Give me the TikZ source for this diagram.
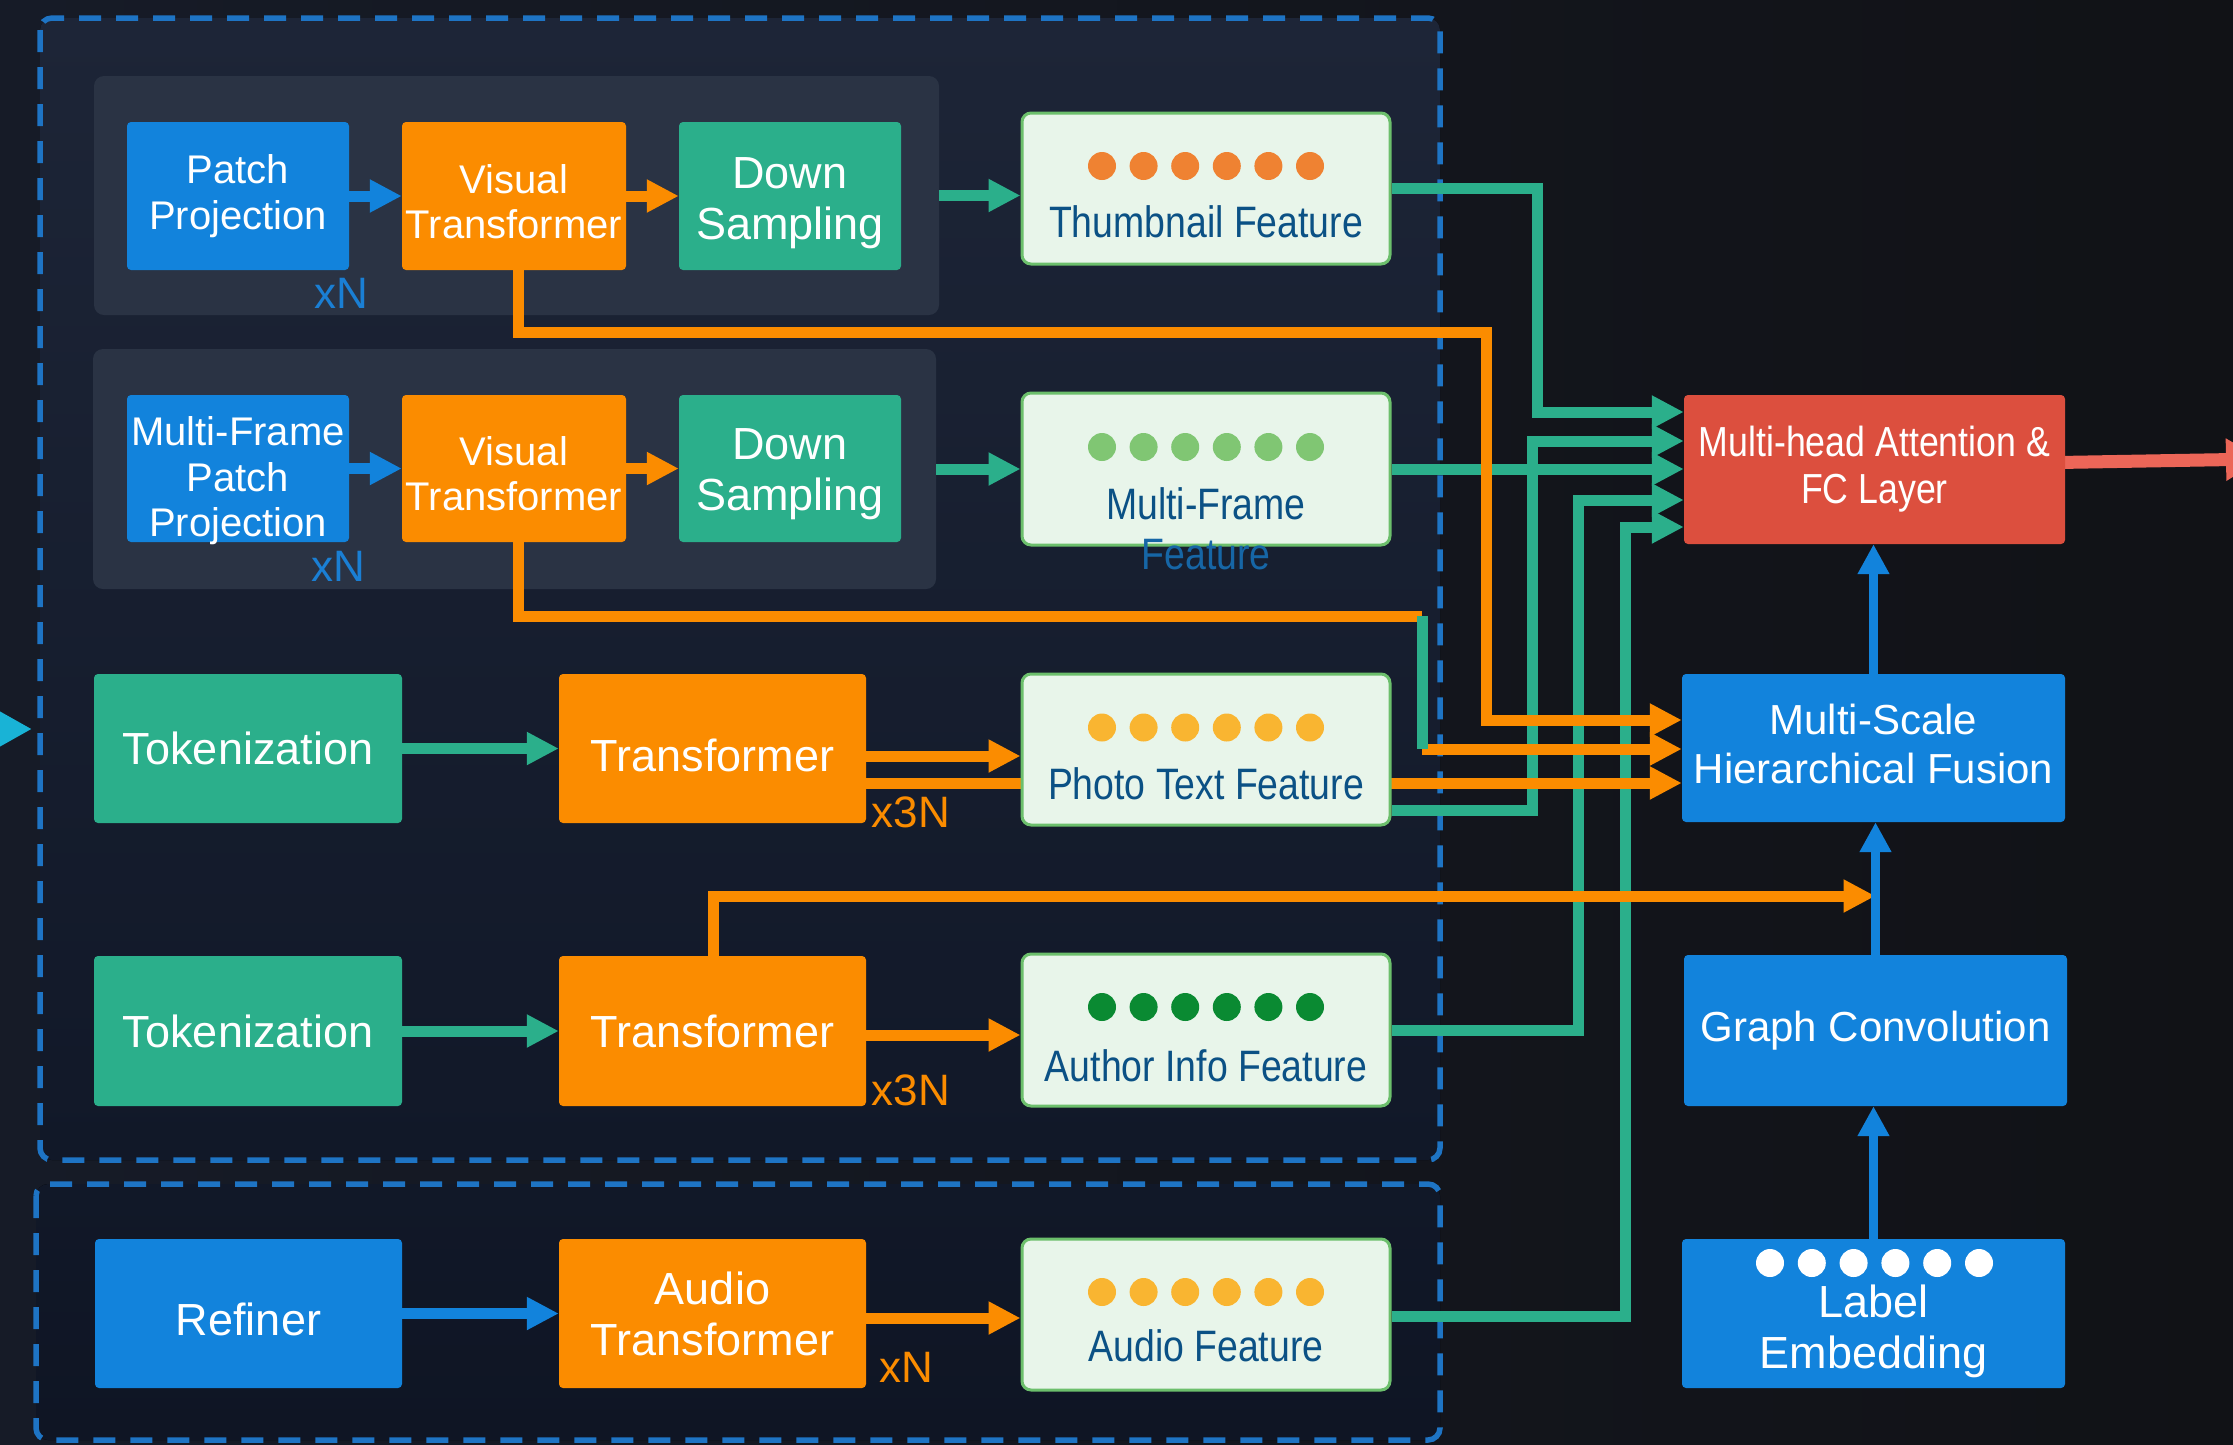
\documentclass[tikz,border=0pt]{standalone}
\usepackage{fontspec}
\setmainfont{Liberation Sans}
\newfontfamily\condfont[FakeStretch=0.85]{Liberation Sans}
\usetikzlibrary{arrows.meta}
\pgfdeclarelayer{backdrop}
\pgfdeclarelayer{wires}
\pgfsetlayers{backdrop,wires,main}

\definecolor{cblue}{HTML}{1283DC}
\definecolor{corange}{HTML}{FB8C00}
\definecolor{cgreen}{HTML}{2BAF8B}
\definecolor{cred}{HTML}{DC4F3E}
\definecolor{csalmon}{HTML}{EC6658}
\definecolor{ccyan}{HTML}{19B3D6}
\definecolor{featfill}{HTML}{E8F5EA}
\definecolor{featedge}{HTML}{6CBF6C}
\definecolor{feattext}{HTML}{0B5185}
\definecolor{feattextb}{HTML}{1666A6}
\definecolor{dashblue}{HTML}{1E74C4}
\definecolor{panelgray}{HTML}{2A3344}
\definecolor{tagblue}{HTML}{1A7FD4}
\definecolor{dotorange}{HTML}{EF8232}
\definecolor{dotlight}{HTML}{80C673}
\definecolor{dotyellow}{HTML}{F9B531}
\definecolor{dotdark}{HTML}{0A8A32}
\definecolor{bgleft}{HTML}{161B27}
\definecolor{bgright}{HTML}{111216}
\definecolor{boxtop}{HTML}{1D2537}
\definecolor{boxbot}{HTML}{111828}
\definecolor{boxbotb}{HTML}{0F1524}

\tikzset{
  blk/.style={rectangle, inner sep=0pt, rounded corners=4pt, text=white, align=center},
  bbox/.style={blk, fill=cblue},
  obox/.style={blk, fill=corange},
  gbox/.style={blk, fill=cgreen},
  rbox/.style={blk, fill=cred},
  btext/.style={text=white, align=center, inner sep=0pt},
  fmid/.style={font=\fontsize{40}{45.5}\selectfont},
  fbig/.style={font=\fontsize{45}{51}\selectfont},
  frt/.style={font=\fontsize{42}{49}\selectfont},
  feat/.style={rectangle, rounded corners=9pt, fill=featfill, draw=featedge,
    line width=3pt, minimum width=368pt, minimum height=151pt},
  ftext/.style={font=\condfont\fontsize{44}{50}\selectfont, text=feattext,
    inner sep=0pt, anchor=base},
  tag/.style={font=\fontsize{44}{50}\selectfont, inner sep=0pt},
  panel/.style={fill=panelgray, rounded corners=10pt, inner sep=0pt},
  frame/.style={draw=dashblue, line width=5.5pt, dash pattern=on 22pt off 15pt,
    rounded corners=12pt},
  wire/.style={line width=11pt},
  tipM/.style={-{Triangle[length=32pt,width=31pt]}},
  gline/.style={wire, draw=cgreen},
  oline/.style={wire, draw=corange},
  garrow/.style={gline, tipM},
  oarrow/.style={oline, tipM},
  barrow/.style={wire, draw=cblue, tipM},
  varrow/.style={line width=9pt, draw=cblue, -{Triangle[length=30pt,width=30pt]}},
  rarrow/.style={line width=13pt, draw=csalmon, -{Triangle[length=36pt,width=40pt]}},
  carrow/.style={line width=11pt, draw=ccyan, -{Triangle[length=40pt,width=41pt]}},
}

\begin{document}
\begin{tikzpicture}[x=1pt, y=-1pt]
\useasboundingbox (0,0) rectangle (2233,1444);

% ---------- backdrop: canvas, dashed groups, grey panels ----------
\begin{pgfonlayer}{backdrop}
  \fill[left color=bgleft, right color=bgright] (0,0) rectangle (2233,1444);
  \fill[top color=boxtop, bottom color=boxbot, rounded corners=12pt] (40,18) rectangle (1440,1160);
  \draw[frame] (40,18) rectangle (1440,1160);
  \fill[top color=boxbot, bottom color=boxbotb, rounded corners=12pt] (36,1184) rectangle (1440,1440);
  \draw[frame] (36,1184) rectangle (1440,1440);
  \node[panel, minimum width=845pt, minimum height=239pt] (p1) at (516.5,195.5) {};
  \node[panel, minimum width=843pt, minimum height=240pt] (p2) at (514.5,469) {};
\end{pgfonlayer}

% ---------- visual branches ----------
\node[bbox, fmid, minimum width=222pt, minimum height=148pt] (pp) at (238,196) {Patch\\Projection};
\node[obox, minimum width=224pt, minimum height=148pt] (vt1) at (514,196) {};
\node[btext, fmid] (vt1t) at (514,201.5) {Visual\\Transformer};
\node[gbox, minimum width=222pt, minimum height=148pt] (ds1) at (790,196) {};
\node[btext, fbig] (ds1t) at (790,203.5) {Down\\Sampling};
\node[tag, text=tagblue] (xn1) at (341,293) {xN};

\node[bbox, minimum width=222pt, minimum height=147pt] (mpp) at (238,468.5) {};
\node[btext, fmid] (mppt) at (238,481) {Multi-Frame\\Patch\\Projection};
\node[obox, minimum width=224pt, minimum height=147pt] (vt2) at (514,468.5) {};
\node[btext, fmid] (vt2t) at (514,473.5) {Visual\\Transformer};
\node[gbox, minimum width=222pt, minimum height=147pt] (ds2) at (790,468.5) {};
\node[btext, fbig] (ds2t) at (790,474.5) {Down\\Sampling};
\node[tag, text=tagblue] (xn2) at (338,566) {xN};

% ---------- text branches ----------
\node[gbox, fbig, minimum width=308pt, minimum height=149pt] (tok1) at (248,748.5) {Tokenization};
\node[obox, minimum width=307pt, minimum height=149pt] (tr1) at (712.5,748.5) {};
\node[btext, fbig] (tr1t) at (712.5,755.5) {Transformer};
\node[tag, text=corange] (x3n1) at (911,812) {x3N};

\node[gbox, fbig, minimum width=308pt, minimum height=150pt] (tok2) at (248,1031) {Tokenization};
\node[obox, fbig, minimum width=307pt, minimum height=150pt] (tr2) at (712.5,1031) {Transformer};
\node[tag, text=corange] (x3n2) at (911,1090) {x3N};

% ---------- audio branch ----------
\node[bbox, minimum width=307pt, minimum height=149pt] (ref) at (248.5,1313.5) {};
\node[btext, fbig] (reft) at (248.5,1319.5) {Refiner};
\node[obox, fbig, minimum width=307pt, minimum height=149pt] (atr) at (712.5,1313.5) {Audio\\Transformer};
\node[tag, text=corange] (xn3) at (906,1367) {xN};

% ---------- feature cards ----------
\node[feat, minimum height=151pt] (thumb) at (1206,188.5) {};
\node[feat, minimum height=152pt] (mff) at (1206,469) {};
\node[feat, minimum height=151pt] (ptf) at (1206,749.5) {};
\node[feat, minimum height=152pt] (aif) at (1206,1030) {};
\node[feat, minimum height=151pt] (auf) at (1206,1314.5) {};

\node[ftext] (thumbt) at (1206,237) {Thumbnail Feature};
\node[ftext] (mfft) at (1206,519) {Multi-Frame};
\node[ftext, text=feattextb] (mfft2) at (1206,569) {Feature};
\node[ftext] (ptft) at (1206,799) {Photo Text Feature};
\node[ftext] (aift) at (1206,1081) {Author Info Feature};
\node[ftext] (auft) at (1206,1361) {Audio Feature};

% ---------- fusion column ----------
\node[rbox, font=\condfont\fontsize{42}{47}\selectfont, minimum width=381pt, minimum height=149pt] (mha) at (1874.5,469.5) {Multi-head Attention \&\\FC Layer};
\node[bbox, minimum width=383pt, minimum height=148pt] (mshf) at (1873.5,748) {};
\node[btext, frt] (mshft) at (1873.5,743.5) {Multi-Scale\\Hierarchical Fusion};
\node[bbox, frt, minimum width=383pt, minimum height=151pt] (gc) at (1875.5,1030.5) {Graph Convolution};
\node[bbox, minimum width=383pt, minimum height=149pt] (le) at (1873.5,1313.5) {};
\node[btext, fbig] (let) at (1873.5,1331) {Label\\Embedding};

% token dots in the feature cards and the label embedding
\foreach \i in {0,...,5} {
  \fill[dotorange] (1102+41.6*\i,166) circle (14pt);
  \fill[dotlight]  (1102+41.6*\i,447) circle (14pt);
  \fill[dotyellow] (1102+41.6*\i,727.5) circle (14pt);
  \fill[dotdark]   (1102+41.6*\i,1007) circle (14pt);
  \fill[dotyellow] (1102+41.6*\i,1292) circle (14pt);
  \fill[white]     (1770+41.8*\i,1263) circle (14pt);
}

% ---------- helper coordinates ----------
\coordinate (vA) at (1537,0);
\coordinate (vB) at (1532,0);
\coordinate (vD) at (1578,0);
\coordinate (vE) at (1625,0);
\coordinate (vF) at (1486,0);
\coordinate (vG) at (1422,0);
\coordinate (hA) at (0,332);
\coordinate (hB) at (0,616);
\coordinate (hC) at (0,896);
\coordinate (mhaA) at ([yshift=57.5pt]mha.west);
\coordinate (mhaB) at ([yshift=28.5pt]mha.west);
\coordinate (mhaD) at ([yshift=-30.5pt]mha.west);
\coordinate (mhaE) at ([yshift=-57.5pt]mha.west);
\coordinate (mshfA) at ([yshift=28pt]mshf.west);
\coordinate (mshfB) at ([yshift=-1pt]mshf.west);
\coordinate (tr1a) at ([yshift=-7.5pt]tr1.east);
\coordinate (tr1b) at ([yshift=-34.5pt]tr1.east);
\coordinate (tr2a) at ([yshift=-4pt]tr2.east);
\coordinate (atra) at ([yshift=-4.5pt]atr.east);
\coordinate (ptfo) at ([yshift=-60.5pt]ptf.east);
\coordinate (aufo) at ([yshift=-2pt]auf.east);
\coordinate (vt1o) at ([xshift=4pt]vt1.south);
\coordinate (vt2o) at ([xshift=4pt]vt2.south);
\coordinate (tr2o) at ([xshift=0.5pt]tr2.north);
\coordinate (mhao) at ([xshift=-7pt,yshift=7pt]mha.east);
\coordinate (outR) at (2262,459);
\coordinate (inL0) at (-60,729);
\coordinate (inL1) at (32,729);

% ---------- connectors ----------
\begin{pgfonlayer}{wires}
  % incoming pointer on the left edge
  \draw[carrow] (inL0) -- (inL1);

  % inside the branches
  \draw[barrow] (pp.east) -- (vt1.west);
  \draw[oarrow] (vt1.east) -- (ds1.west);
  \draw[garrow] (p1.east) -- (p1.east -| thumb.west);
  \draw[barrow] (mpp.east) -- (vt2.west);
  \draw[oarrow] (vt2.east) -- (ds2.west);
  \draw[garrow] (p2.east) -- (p2.east -| mff.west);
  \draw[garrow] (tok1.east) -- (tr1.west);
  \draw[oarrow] (tr1a) -- (tr1a -| ptf.west);
  \draw[garrow] (tok2.east) -- (tr2.west);
  \draw[oarrow] (tr2a) -- (tr2a -| aif.west);
  \draw[barrow] (ref.east) -- (atr.west);
  \draw[oarrow] (atra) -- (atra -| auf.west);

  % features into attention
  \draw[garrow] (thumb.east) -| (vA |- mhaA) -- (mhaA);
  \draw[garrow] (ptfo) -| (vB |- mhaB) -- (mhaB);
  \draw[garrow] (mff.east) -- (mff.east -| mha.west);
  \draw[garrow] (aif.east) -| (vD |- mhaD) -- (mhaD);
  \draw[garrow] (aufo) -| (vE |- mhaE) -- (mhaE);

  % intermediate layers into fusion
  \draw[oarrow] (vt1o) |- (vF |- hA) -- (vF |- mshfA) -- (mshfA);
  \draw[oline] (vt2o) |- (vG |- hB);
  \draw[oarrow] (vG |- mshfB) -- (mshfB);
  \draw[gline] (vG |- hB) -- (vG |- mshfB);
  \draw[oarrow] (tr1b) -- (tr1b -| mshf.west);
  \draw[oarrow] (tr2o) |- (gc.north |- hC);

  % fusion column
  \draw[varrow] (le.north) -- (le.north |- gc.south);
  \draw[varrow] (gc.north) -- (gc.north |- mshf.south);
  \draw[varrow] (mshf.north) -- (mshf.north |- mha.south);
  \draw[rarrow] (mhao) -- (outR);
\end{pgfonlayer}
\end{tikzpicture}
\end{document}
